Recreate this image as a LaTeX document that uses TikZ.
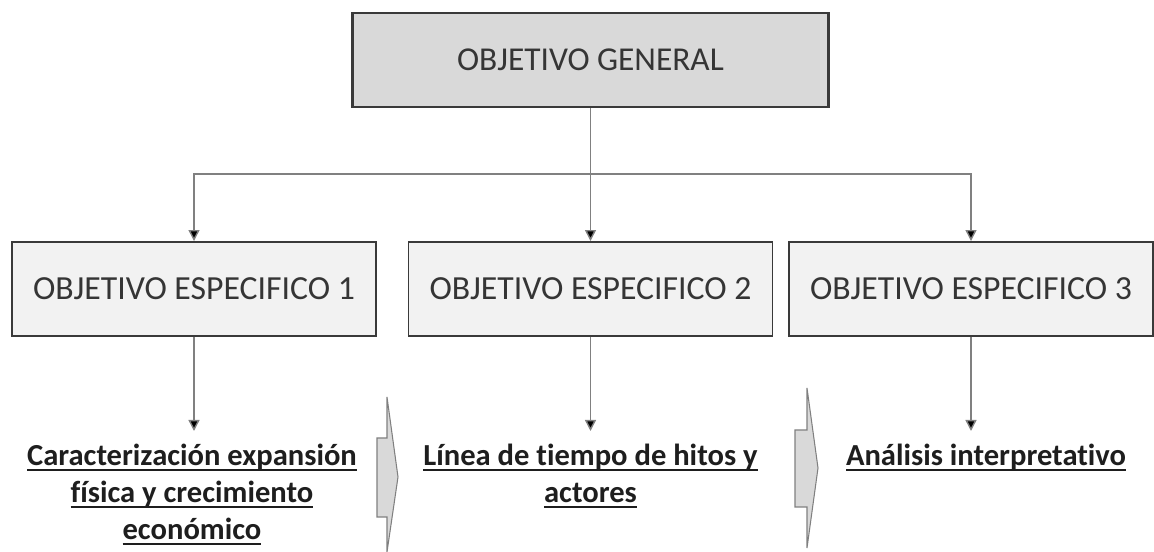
\documentclass[tikz,border=0pt]{standalone}
\usepackage{fontspec}
\setmainfont[Ligatures=NoCommon]{Carlito}
\usepackage{tikz}
\usetikzlibrary{positioning, arrows.meta, calc}

\definecolor{boxline}{HTML}{3A3A3A}
\definecolor{genfill}{HTML}{D9D9D9}
\definecolor{specfill}{HTML}{F2F2F2}
\definecolor{linkgray}{HTML}{808080}
\definecolor{inkdark}{HTML}{1E1E1E}

% underline that crosses the descenders, like a word processor does
\newcommand{\lineu}[1]{\setbox0\hbox{#1}\rlap{\rule[-0.17em]{\wd0}{0.07em}}\box0}

\begin{document}
\begin{tikzpicture}[
    genbox/.style={rectangle, draw=boxline, line width=1.2pt, fill=genfill,
                   minimum width=9.52cm, minimum height=1.88cm,
                   font=\fontsize{19}{23}\selectfont, text=inkdark!90},
    specbox/.style={rectangle, draw=boxline, line width=1.1pt, fill=specfill,
                    minimum width=7.28cm, minimum height=1.88cm,
                    font=\fontsize{19.2}{23}\selectfont, text=inkdark!90},
    result/.style={align=center, anchor=north, inner xsep=3pt, inner ysep=7.5pt,
                   text=inkdark, font=\fontsize{17.4}{21}\selectfont\bfseries},
    link/.style={draw=linkgray, line width=0.8pt},
    arrow/.style={link, -{Triangle[length=2.2mm, width=2.2mm, fill=black]}},
    chevron/.style={draw=linkgray, line width=0.6pt, fill=genfill, line join=miter}
]
    \useasboundingbox (0, 0) rectangle (23.08, -11.04);

    % === General objective ===
    \node[genbox] (gen) at (11.81, -1.20) {OBJETIVO GENERAL};

    % === Specific objectives ===
    \node[specbox] (spec1) at (3.88, -5.78) {OBJETIVO ESPECIFICO 1};
    \node[specbox] (spec2) at (11.81, -5.78) {OBJETIVO ESPECIFICO 2};
    \node[specbox] (spec3) at (19.42, -5.78) {OBJETIVO ESPECIFICO 3};

    % Tree connectors
    \coordinate (hub) at ($(gen.south |- 0, -3.48)$);
    \draw[link] (gen.south) -- (hub);
    \draw[arrow] (hub) -| (spec1.north);
    \draw[arrow] (hub) -- (spec2.north);
    \draw[arrow] (hub) -| (spec3.north);

    % === Results ===
    \node[result] (res1) at (3.84, -8.62)
        {\lineu{Caracterización expansión}\\\lineu{física y crecimiento}\\\lineu{económico}};
    \node[result] (res2) at (11.81, -8.62)
        {\lineu{Línea de tiempo de hitos y}\\\lineu{actores}};
    \node[result] (res3) at (19.72, -8.62) {\lineu{Análisis interpretativo}};

    \draw[arrow] (spec1.south) -- (spec1.south |- res1.north);
    \draw[arrow] (spec2.south) -- (spec2.south |- res2.north);
    \draw[arrow] (spec3.south) -- (spec3.south |- res3.north);

    % Block arrows between the results
    \draw[chevron] (7.54, -8.76) -- (7.74, -8.76) -- (7.74, -7.94) -- (7.96, -9.54)
        -- (7.74, -11.04) -- (7.74, -10.34) -- (7.54, -10.34) -- cycle;
    \draw[chevron] (15.90, -8.60) -- (16.14, -8.60) -- (16.14, -7.76) -- (16.36, -9.36)
        -- (16.14, -10.96) -- (16.14, -10.14) -- (15.90, -10.14) -- cycle;

\end{tikzpicture}
\end{document}
